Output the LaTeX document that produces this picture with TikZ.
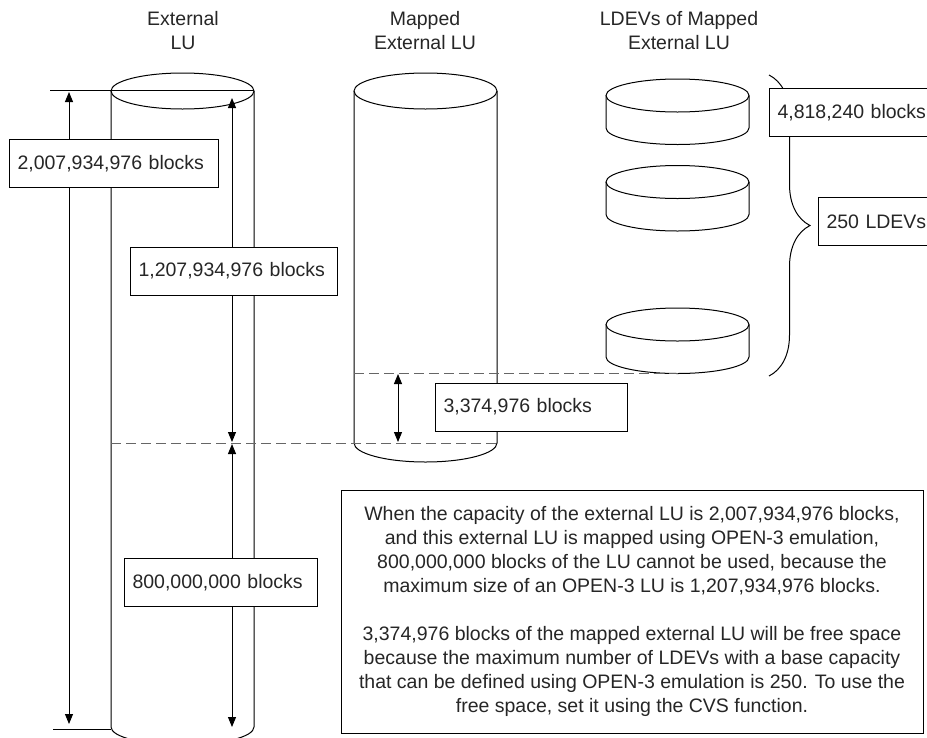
\documentclass[tikz,border=0pt]{standalone}
\usepackage{fontspec}
\setmainfont{Liberation Sans}
\usetikzlibrary{arrows.meta,decorations.pathreplacing}

\begin{document}
\begin{tikzpicture}[x=1pt, y=1pt, line width=1pt, font=\fontsize{19.5}{24}\selectfont, text=black!85]
  \tikzstyle{sizebox} = [draw, fill=white, anchor=west, align=left, inner xsep=8pt, minimum height=48pt]
  \tikzstyle{arrow} = [{Triangle[width=8pt,length=10pt]}-{Triangle[width=8pt,length=10pt]}]
  \tikzstyle{cut} = [dash pattern=on 10pt off 5pt, black!60]
  \tikzstyle{heading} = [align=center]

  \clip (0,0) rectangle (927,-737);

  % headings
  \node[heading] (hext) at (183,-30.5) {External\\LU};
  \node[heading] (hmap) at (425,-30.5) {Mapped\\External LU};
  \node[heading] (hldev) at (679,-30.5) {LDEVs of Mapped\\External LU};

  % external LU
  \draw (111,-91) -- (111,-727) arc (180:360:71.5 and 18) -- (254,-91);
  \draw (182.5,-91) ellipse (71.5 and 18);

  % mapped external LU
  \draw (354,-91) -- (354,-443) arc (180:360:71.5 and 19) -- (497,-91);
  \draw (425.5,-91) ellipse (71.5 and 18);

  % LDEVs
  \foreach \y in {95.5,182,324.5}
  {
    \draw (606,-\y) -- (606,-\y-32.5) arc (180:360:71.5 and 16.5) -- (749,-\y);
    \draw (677.5,-\y) ellipse (71.5 and 16.5);
  }

  % limits
  \coordinate (toptick) at (50,-90);
  \coordinate (topend) at (254,-90);
  \coordinate (bottick) at (53,-729);
  \coordinate (botend) at (111,-729);
  \draw (toptick) -- (topend);
  \draw (bottick) -- (botend);

  \coordinate (usedleft) at (111,-443);
  \coordinate (usedright) at (497,-443);
  \coordinate (freeleft) at (354,-373);
  \coordinate (freeright) at (677.5,-373);
  \draw[cut] (usedleft) -- (usedright);
  \draw[cut] (freeleft) -- (freeright);

  % dimension arrows
  \coordinate (totaltop) at (69,-92);
  \coordinate (totalbot) at (69,-724);
  \coordinate (opentop) at (232,-98);
  \coordinate (openbot) at (232,-442);
  \coordinate (losttop) at (232,-444);
  \coordinate (lostbot) at (232,-727);
  \coordinate (freetop) at (398,-374);
  \coordinate (freebot) at (398,-442);
  \draw[arrow] (totaltop) -- (totalbot);
  \draw[arrow] (opentop) -- (openbot);
  \draw[arrow] (losttop) -- (lostbot);
  \draw[arrow] (freetop) -- (freebot);

  % brace round the LDEVs
  \coordinate (bracetop) at (769,-75);
  \coordinate (bracebot) at (769,-376);
  \draw[decorate, decoration={brace, amplitude=41pt}] (bracetop) -- (bracebot);

  % sizes
  \node[sizebox, text width=193pt] (total) at (9,-163.5) {2,007,934,976 blocks};
  \node[sizebox, text width=191pt] (open) at (130,-271) {1,207,934,976 blocks};
  \node[sizebox, text width=177pt] (lost) at (124,-582.5) {800,000,000 blocks};
  \node[sizebox, text width=176pt] (free) at (435,-407) {3,374,976 blocks};
  \node[sizebox, text width=180pt] (ldevsize) at (769,-112.5) {4,818,240 blocks};
  \node[sizebox, text width=120pt] (ldevcount) at (818,-221.5) {250 LDEVs};

  % explanation
  \node[draw, fill=white, minimum width=582pt, minimum height=243pt, align=center] (note) at (632,-611.5)
    {When the capacity of the external LU is 2,007,934,976 blocks,\\
     and this external LU is mapped using OPEN-3 emulation,\\
     800,000,000 blocks of the LU cannot be used, because the\\
     maximum size of an OPEN-3 LU is 1,207,934,976 blocks.\\[24pt]
     3,374,976 blocks of the mapped external LU will be free space\\
     because the maximum number of LDEVs with a base capacity\\
     that can be defined using OPEN-3 emulation is 250. To use the\\
     free space, set it using the CVS function.};
\end{tikzpicture}
\end{document}
